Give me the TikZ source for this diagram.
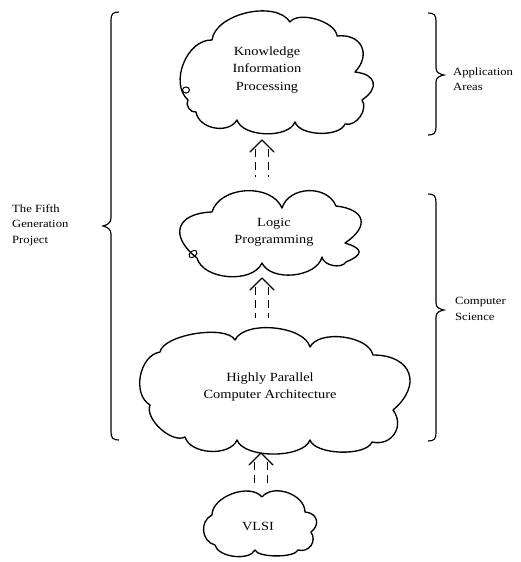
\documentclass[tikz,border=0pt]{standalone}
\usepackage{fontspec}
\setmainfont{Liberation Serif}[FakeStretch=1.15]
\usetikzlibrary{calc}
\begin{document}
\begin{tikzpicture}[x=1pt,y=-1pt,
  cl/.style={line width=1.35pt, line join=round},
  lb/.style={bend left=70, looseness=#1},
  lbl/.style={font=\fontsize{12.5}{17.5}\selectfont, align=center, inner sep=0pt},
  side/.style={font=\fontsize{11}{15.5}\selectfont, align=left, inner sep=0pt, anchor=west},
  brace/.style={line width=1.15pt},
  dsh/.style={line width=1.2pt, dash pattern=on 8pt off 5pt},
  head/.style={line width=1.2pt, line join=round, line cap=round}]
\useasboundingbox (0,0) rectangle (521,562);

% clouds
\draw[cl] (188,100) to[lb=1.0] (212,40) to[lb=0.85] (290,22) to[lb=0.75] (337,36) to[lb=1.55] (355,72) to[lb=1.9] (362,100) to[lb=1.0] (345,124) to[lb=0.75] (295,122) to[lb=0.8] (237,120) to[lb=1.05] (196,112) to[lb=1.0] (188,100) -- cycle;
\draw[line width=1pt] (186,90) circle[x radius=3.5, y radius=3];

\draw[cl] (197,258) to[lb=1.9] (212,212) to[lb=1.0] (282,208) to[lb=1.1] (336,206) to[lb=2.0] (345,243) to[lb=2.6] (346,262) to[lb=0.9] (322,257) to[lb=0.9] (262,263) to[lb=0.9] (197,258) -- cycle;
\draw[line width=1pt, rotate around={40:(193,254)}] (193,254) circle[x radius=4.5, y radius=3];

\draw[cl] (150,405) to[lb=1.0] (160,352) to[lb=0.6] (235,340) to[lb=0.75] (310,347) to[lb=0.8] (373,355) to[lb=1.7] (393,410) to[lb=1.35] (372,442) to[lb=0.65] (310,440) to[lb=0.7] (237,440) to[lb=0.9] (185,437) to[lb=0.8] (150,405) -- cycle;

\draw[cl] (212,515) to[lb=0.9] (262,497) to[lb=1.0] (305,512) to[lb=1.5] (311,532) to[lb=1.3] (298,550) to[lb=0.5] (255,550) to[lb=0.8] (215,545) to[lb=1.2] (212,515) -- cycle;

% texts
\node[lbl] (kip) at (267,70) {Knowledge\\Information\\Processing};
\node[lbl] (lp) at (274,232) {Logic\\Programming};
\node[lbl] (hpca) at (270,387) {Highly Parallel\\Computer Architecture};
\node[lbl] (vlsi) at (258,526) {VLSI};

\node[side] (fgp) at (12,225) {The Fifth\\Generation\\Project};
\node[side] (aa) at (453,79) {Application\\Areas};
\node[side] (cs) at (455,309) {Computer\\Science};

% arrows
\coordinate (a1t) at (262,140); \coordinate (a1b) at (262,177);
\coordinate (a2t) at (262,278); \coordinate (a2b) at (262,318);
\coordinate (a3t) at (261,453); \coordinate (a3b) at (261,487);
\foreach \t/\b in {a1t/a1b, a2t/a2b, a3t/a3b}{
  \draw[head] ($(\t)+(-12,12)$) -- (\t) -- ($(\t)+(12,12)$);
  \draw[dsh] ($(\t)+(-6.5,9)$) -- ($(\b)+(-6.5,0)$);
  \draw[dsh] ($(\t)+(6.5,9)$) -- ($(\b)+(6.5,0)$);
}

% braces
\draw[brace] (119,12) .. controls (113,12) and (111,14) .. (111,20) -- (111,218) .. controls (111,223) and (107,225) .. (103,226) .. controls (107,227) and (111,229) .. (111,234) -- (111,432) .. controls (111,438) and (113,440) .. (119,440);
\draw[brace] (428,13) .. controls (434,13) and (436,15) .. (436,21) -- (436,68) .. controls (436,73) and (440,74) .. (444,75) .. controls (440,76) and (436,77) .. (436,82) -- (436,127) .. controls (436,133) and (434,135) .. (428,135);
\draw[brace] (428,194) .. controls (434,194) and (436,196) .. (436,202) -- (436,303) .. controls (436,308) and (440,309) .. (444,310) .. controls (440,311) and (436,312) .. (436,317) -- (436,433) .. controls (436,439) and (434,441) .. (428,441);
\end{tikzpicture}
\end{document}
